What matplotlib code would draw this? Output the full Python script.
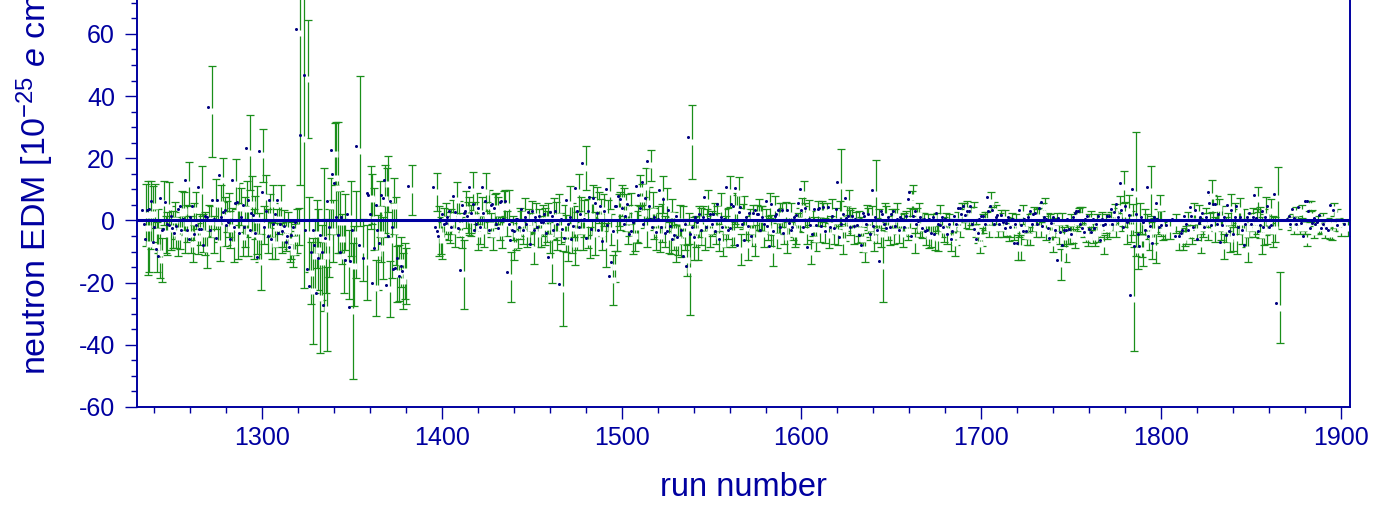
"""
Medidas del EDM del neutron por run, con barras de error y linea en cero.
"""
import numpy as np
import matplotlib
matplotlib.use('Agg')
import matplotlib.pyplot as plt
from matplotlib import transforms
from matplotlib.ticker import MultipleLocator

plt.rcParams['font.family'] = ['Liberation Sans', 'DejaVu Sans']
plt.rcParams['mathtext.fontset'] = 'custom'
plt.rcParams['mathtext.rm'] = 'Liberation Sans'
plt.rcParams['mathtext.it'] = 'Liberation Sans:italic'
plt.rcParams['axes.unicode_minus'] = False

NAVY = '#0000A0'
DOT = '#000080'
GREEN = '#1a8f1a'

# ---- datos ----
# bloque A: runs 1233..1319
runs_a = list(range(1233, 1320))
edm_a = [3.2, -1, -6, 3.2, 3.6, 6.1, -7, -2, -9.1, -11.3,
         7.1, -3, -2.7, 5.9, -1, -1.4, 1.5, -2.5, -4, -1.7,
         3.8, 4.5, -3, 0.5, 13.1, -3, -6, 1, 4.7, -4.3,
         -1.5, 10.9, -2.6, -2.8, -7.8, 1.5, 1.1, 36.5, -3, 6.7,
         0.5, -5.7, 6.7, 14.5, 1.1, 2.6, 3.2, -1.4, -0.6, -6,
         13.1, -2, 5.6, 5.9, -4, 1, 5, -2, 23.3, 6.7,
         -3, 2.4, 1.6, -4, -11.9, 22.4, 0, 9, -2, 3,
         -4.9, 6.7, -6, -1, 2, 6.7, -4.1, -1.2, -3.5, -1.7,
         -7, -5.1, -8.6, -4.6, -2, -0.6, 61.7]
err_a = [10, 15, 9, 11, 9, 7, 8, 7, 8, 7,
         7, 6, 7, 8, 7, 6, 6, 5, 6, 6,
         7, 6, 6, 6, 7, 6, 6, 6, 6, 5,
         5, 8, 6, 7, 6, 5, 5, 14.5, 6, 8,
         6, 6, 6, 7, 8, 5, 7, 6, 6, 6,
         8, 9, 8, 6, 6, 8, 9, 8, 12, 9,
         8, 7, 11, 8, 9, 8.5, 6, 7, 7, 7,
         6, 6, 5, 6, 5, 6, 5, 6, 5, 6,
         5, 6, 5, 5, 7, 6, 49]

# bloque B: runs 1321..1381 (con huecos)
runs_b = [1321, 1323, 1324, 1325, 1326, 1327, 1328, 1329, 1330, 1331,
          1332, 1333, 1334, 1335, 1336, 1337, 1338, 1339, 1340, 1341,
          1342, 1343, 1344, 1346, 1347, 1348, 1349, 1350, 1352, 1354,
          1356, 1358, 1359, 1360, 1361, 1362, 1363, 1364, 1365, 1366,
          1367, 1368, 1369, 1370, 1371, 1372, 1373, 1374, 1375, 1376,
          1377, 1378, 1381]
edm_b = [27.6, 46.9, -3, -15.5, -21.2, -10, -3, -8, -23.4, -12,
         -4.6, -10, -27.1, -5.8, 6.1, -2, 22.7, 15, 12, 1,
         -4.6, -10, 1, -12.7, 2.1, -27.7, -13.2, -3, 23.8, -8,
         -12, 8.8, 8.3, 2, -20.2, -8.9, 5, -3, -7.3, 8.3,
         7.2, 13.1, -20.7, -5, 6.1, -2, -15.7, -15.3, -12, -18,
         -14.8, -16.4, 11.2]
err_b = [48, 19, 12, 10, 17, 12, 11, 13, 17.8, 12,
         23, 12, 13.6, 11, 9, 10, 10, 18, 21, 10,
         8, 12, 9, 11, 12, 21.8, 13, 14, 24, 10,
         12, 10, 8, 10, 9, 12, 9, 9, 10, 11,
         11, 9, 9, 12, 9, 11, 9, 9, 8, 9,
         9, 9, 8]

# bloque C1: runs 1395..1499
runs_c1 = list(range(1395, 1500))
edm_c1 = [10.6, -2, -3.3, -4.9, 0.5, 2, -1, -0.9, 1, 3,
          -2, 7.9, 2.6, 0, -2.5, -15.9, 5, 2.4, 2.9, 1.5,
          10.9, 2.4, 5.4, -3, -1.1, 4, -2, 10.6, 2.4, 6.1,
          0, -3, 5, 5.4, 4, -1, -2.5, 5.9, 6.1, 0.5,
          6.1, -16.7, -1, -6.4, -3, -3.3, 0.4, 0.5, -2, 3.6,
          -3, 1, -1, 2.7, -7.6, 2.9, -3, 1, -2, 1.5,
          -0.5, -0.6, 2, -4, -11.6, 2.6, 1.3, -3, 3, -1,
          -20.5, 0.5, -2.8, -5.5, 6.6, -1, 1, -6, -1.9, 10.5,
          3.1, -2, 2, 18.4, 0.5, -5.5, 2.9, 7.7, -2.8, 7.2,
          5.6, 2.4, -3, 4.8, -6.5, 2.9, 10.1, -1.6, -17.8, -13.5,
          -3.5, 4.8, 4.5, 7.9, 6.9]
err_c1 = [6, 8, 6, 6, 5, 5, 4, 5, 4, 5,
          5, 6, 5, 4, 5, 11, 6, 5, 6, 5,
          6, 5, 5, 5, 5, 5, 5, 6, 5, 5,
          4, 5, 5, 5, 5, 4, 5, 5, 5, 4,
          5, 8, 4, 5, 5, 4, 5, 4, 4, 5,
          4, 4, 5, 5, 5, 4, 4, 4, 5, 5,
          6, 5, 5, 5, 7, 6, 6, 5, 7, 5,
          12, 6, 6, 6, 6, 8, 5, 7, 6, 6,
          6, 6, 6, 7, 8, 5, 6, 5, 7, 5,
          5, 6, 5, 5, 7, 5, 5, 5, 8, 5,
          5, 5, 6, 5, 5]

# bloque C2: runs 1500..1599
runs_c2 = list(range(1500, 1600))
edm_c2 = [3.9, -1, 1.3, 5.2, -4.4, -3.5, -0.5, 0.3, 11.2, 8.3,
          3.9, 12.3, -1, 7.2, 19.2, 4.5, 0.6, -2, 1, -3.7,
          0.6, 9.8, -2, 6.9, -4, -3.5, 3.2, -1.9, -5.9, -4.6,
          1.3, -5.2, 0, -3, -11.4, -1, -14.5, 26.7, -4.3, -2,
          -5.2, 1, -0.6, 2, -3, 1, 7.4, -2, 0.5, 2.1,
          -1, 2, -3.5, 5.2, -6, 1, -2, 0.6, 10.7, -3,
          -2.5, 5.3, 4.5, 10.3, -8, 2.6, 4.2, -1, -6.4, 1,
          -1.9, 2.4, -5, 2.4, 3.4, 2, 2, -3, 1, -1,
          6.3, -1.9, -8.2, 5.3, -3.5, 1.5, 2, 3.2, -2, 3.4,
          -4, 0, 3.2, -0.9, -3, -2.1, 1, 1.6, 5.6, 10.1]
err_c2 = [6, 5, 5, 5, 5, 5, 5, 6, 5, 5,
          5, 6, 6, 5, 5, 6, 5, 6, 5, 5,
          6, 6, 5, 5, 5, 6, 5, 6, 6, 5,
          5, 5, 6, 5, 5, 5, 14.5, 12, 7, 5,
          6, 5, 6, 4, 5, 4, 4, 5, 4, 5,
          5, 4, 5, 5, 4, 4, 5, 5, 5, 4,
          4, 5, 5, 5, 5, 4, 5, 4, 5, 4,
          5, 4, 5, 4, 5, 4, 4, 4, 4, 4,
          4, 5, 5, 4, 4, 4, 5, 4, 4, 4,
          5, 4, 4, 4, 4, 4, 3, 4, 3, 4]

# bloque C3: runs 1600..1699
runs_c3 = list(range(1600, 1700))
edm_c3 = [3.2, -2, 3.9, -8.7, 0.5, -1.4, -4.4, 3.8, -1.6, 3.6,
          3.9, -1.7, 4.2, -3.3, 0, 4.3, -2, 1.3, -2.3, 3.6,
          12.4, -5.2, -1.2, 2, 7.2, 0.8, 1.3, -2, 1.3, -1.7,
          0.5, -1.6, -4.6, -7.8, 2.4, 1.3, -1, 2.1, -4.3, 9.9,
          -1.9, 1, -3, -13.2, 2.9, 2, -1, -2.5, 1, -2,
          2, 2.9, -1.9, 0.5, -3, 1, 0.4, -2, 1.5, 6.9,
          9, -4.9, 1.3, 3.1, -1, -0.3, 1, -2.5, 0.5, -3.5,
          -3.2, 0.5, -3.9, 1, -4.3, 2.4, -1, -1.6, 1, -2.1,
          0.5, -4.3, -1, -5.9, -3.5, 1.3, -1, 3.9, 4, 2,
          4.7, 1.8, 2.9, 2.9, 4.5, -1, -2.8, -6, -3.9, 0.5]
err_c3 = [4, 4, 4, 4, 4, 4, 4, 4, 4, 4,
          3, 4, 3, 4, 3, 4, 4, 4, 4, 4,
          12, 4, 4, 4, 4, 4, 4, 4, 3, 4,
          4, 4, 4, 4, 4, 4, 4, 4, 4, 11,
          4, 4, 4, 11.7, 4, 4, 4, 4, 4, 4,
          3, 4, 4, 3, 4, 3, 4, 3, 4, 4,
          4, 4, 4, 4, 3, 4, 3, 4, 3, 4,
          4, 3, 4, 3, 4, 4, 3, 4, 3, 4,
          3, 4, 3, 4, 3, 3, 3, 3, 3, 3,
          3, 3, 3, 3, 3, 3, 3, 3, 3, 3]

# bloque C4: runs 1700..1800
runs_c4 = list(range(1700, 1801))
edm_c4 = [1.3, 1.3, -1, 7.5, 2.9, 4.5, 3.4, -1, 1, 1.8,
          -1, 1.8, -0.5, -2.3, -0.9, 1, -2, 0.5, -7.3, -1,
          -7.3, 3.4, -1.4, -3.5, 0.5, -3.5, 1, 2.9, -1, 2.1,
          2.4, -1, 4, 5.8, -1.9, 1, 0.4, -2.5, -5.7, -0.9,
          1, -3, -12.7, 0.8, -3.8, -8, -3, -3.2, 0.5, -2.8,
          -4.4, 1.1, 2.4, 2.9, 2.9, -1, -2.5, -3.8, 0.5, 1.5,
          -2.8, -3.8, 0.5, -2.5, -1, 1.3, -6.2, 0.5, -1.4, -1,
          1.3, 1.3, 3.6, -1, 2.6, 5.4, 1, 12.2, 3.4, -2,
          4.5, -0.6, 1.8, -23.9, 10, -8.2, 2, -4.3, -8.2, 1,
          -0.6, -3, 10.9, -5, -1.9, -7.3, 1, 5.6, 0.4, -2,
          -1.4]
err_c4 = [3, 3, 3, 3, 3, 3, 3, 3, 3, 3,
          3, 3, 3, 3, 3, 3, 3, 3, 4, 3,
          4, 3, 3, 3, 3, 3, 3, 3, 3, 3,
          3, 3, 3, 3, 3, 3, 3, 3, 3, 3,
          3, 3, 5, 3, 3, 4, 3, 3, 3, 3,
          3, 3, 3, 3, 3, 3, 3, 3, 3, 3,
          3, 3, 3, 3, 3, 3, 3, 3, 3, 3,
          3, 3, 3, 3, 3, 4, 3, 5, 4, 4,
          5, 5, 5, 16.8, 20, 6, 5, 6, 5, 4,
          4, 5, 8, 6, 4, 5, 4, 4, 4, 3,
          3]

# bloque D: runs 1803..1902
runs_d = ([1803, 1806, 1808] + list(range(1810, 1862)) + [1863, 1864]
          + list(range(1870, 1899)) + [1902])
edm_d = [-1.4, 0.5, -4.9,
         -4.9, -3.9, -3.2, 1.3, -1.2, -3, 4.2, 1.3, -2, 3.4,
         -6, -0.9, 1, 2.4, -2, 1, 9.3, 5.6, -1.4, 5.3,
         5.3, -1, 2.1, -6.8, -1.4, 1, -4.6, 5, -3.5, 3.2,
         -4.3, 1, 4.7, -2, 1, -3, -7.8, -1, 1, 2.4,
         -1, 1, 8.3, 0.8, -3.3, -1.4, 2.9, -2, 1, 4.5,
         -2, -1.4,
         8.6, -26.6,
         0.5, 1.5, -1, 3.8, 0.8, -1, 4.3, 0, -0.9, -4.9,
         6.1, 6.1, 2.9, -2.3, -0.9, 0.8, -1, -0.6, 1.8, -2.3,
         -1, 0.2, -2.5, -3, 5, 0, 3.2, 0.2, -1.5,
         -1]
err_d = [3, 3, 3,
         3, 3, 3, 3, 3, 3, 3, 3, 3, 3,
         3, 3, 3, 3, 3, 3, 5, 4, 4, 4,
         3, 4, 4, 4, 4, 3, 4, 5, 5, 4,
         5, 4, 4, 4, 4, 4, 4, 3, 3, 3,
         3, 4, 4, 5, 6, 5, 6, 4, 4, 4,
         5, 4,
         10, 11.5,
         2, 2, 2, 2, 2, 2, 2, 2, 2, 2,
         1.5, 1.5, 2, 2, 2, 2, 2, 2, 2, 2,
         2, 2, 2, 2, 2, 2, 2, 2, 2,
         2.5]

runs = np.concatenate([runs_a, runs_b, runs_c1, runs_c2, runs_c3, runs_c4, runs_d])
edm = np.concatenate([edm_a, edm_b, edm_c1, edm_c2, edm_c3, edm_c4, edm_d])
err = np.concatenate([err_a, err_b, err_c1, err_c2, err_c3, err_c4, err_d])

# ---- figura ----
fig = plt.figure(figsize=(13.85, 5.09), dpi=100)
ax = fig.add_axes([137 / 1385, 102 / 509, 1213 / 1385, 407 / 509])

# las barras en el original salen desplazadas respecto al punto (estilo Origin)
bar_tr = transforms.offset_copy(ax.transData, fig=fig, x=4, y=-4.5, units='dots')

ax.errorbar(runs, edm, yerr=err, fmt='none', ecolor=GREEN, elinewidth=0.9,
            capsize=3.2, capthick=0.9, transform=bar_tr, zorder=2)
# hueco blanco en la barra alrededor del punto
ax.plot(runs, edm, ls='none', marker='s', ms=4.2, mfc='white', mec='none',
        transform=bar_tr, zorder=2.5)
ax.plot(runs, edm, ls='none', marker='o', ms=2.2, mfc=DOT, mec='none', zorder=2.7)

ax.axhline(0, color=NAVY, lw=2.2, zorder=3)

ax.set_xlim(1230.3, 1905.2)
ax.set_ylim(-60, 70.9)

ax.xaxis.set_major_locator(MultipleLocator(100))
ax.xaxis.set_minor_locator(MultipleLocator(20))
ax.yaxis.set_major_locator(MultipleLocator(20))
ax.yaxis.set_minor_locator(MultipleLocator(5))

for side in ['left', 'bottom', 'right']:
    ax.spines[side].set_color(NAVY)
    ax.spines[side].set_linewidth(1.4)
ax.spines['top'].set_visible(False)

ax.tick_params(which='both', direction='out', color=NAVY, labelcolor=NAVY,
               width=1.0, labelsize=18)
ax.tick_params(which='major', length=8.8)
ax.tick_params(which='minor', length=4.4)
ax.tick_params(axis='x', pad=5)
ax.tick_params(axis='y', pad=7)

ax.set_xlabel('run number', fontsize=23.5, color=NAVY, va='top')
ax.xaxis.set_label_coords(0.5, -0.16)
ax.set_ylabel(r'neutron EDM [10$^{-25}$ $e$ cm]', fontsize=24.5, color=NAVY, ha='left')
ax.yaxis.set_label_coords(-0.067, 0.079)

plt.savefig('out.png', dpi=100)
plt.close()
